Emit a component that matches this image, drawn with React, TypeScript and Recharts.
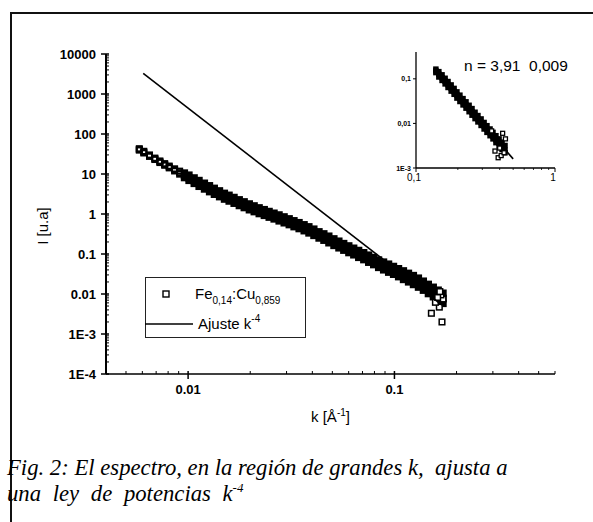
import React from "react";
import { ScatterChart, Scatter, XAxis, YAxis, Legend, Label } from "recharts";

// ─── Main spectrum data ───────────────────────────────────────────────────

const kValues = [
  0.0058, 0.0061, 0.0065, 0.0069, 0.0073, 0.0077, 0.0081, 0.0086, 0.0091, 0.0096,
  0.0101, 0.0107, 0.0113, 0.012, 0.0127, 0.0134, 0.0142, 0.015, 0.0158, 0.0167,
  0.0177, 0.0187, 0.0198, 0.0209, 0.0221, 0.0234, 0.0247, 0.0261, 0.0276, 0.0292,
  0.0309, 0.0326, 0.0345, 0.0365, 0.0385, 0.0407, 0.0431, 0.0455, 0.0481, 0.0509,
  0.0538, 0.0568, 0.0601, 0.0635, 0.0671, 0.071, 0.075, 0.0793, 0.0838, 0.0886,
  0.0937, 0.099, 0.1047, 0.1106, 0.117, 0.1236, 0.1307, 0.1381, 0.146, 0.1543,
  0.163, 0.172,
];

// band centre
const iCenter = [
  41, 35, 28.8, 24, 20.2, 17.3, 15, 12.7, 10.8, 9.2,
  8.0, 6.8, 5.8, 5.0, 4.3, 3.7, 3.2, 2.8, 2.5, 2.2,
  1.92, 1.71, 1.51, 1.36, 1.21, 1.09, 0.98, 0.89, 0.8, 0.72,
  0.64, 0.57, 0.51, 0.45, 0.4, 0.35, 0.3, 0.265, 0.23, 0.197,
  0.171, 0.15, 0.131, 0.115, 0.1, 0.0886, 0.0767, 0.0665, 0.0575, 0.0507,
  0.0444, 0.0391, 0.0343, 0.0297, 0.0257, 0.0224, 0.0193, 0.0162, 0.0134, 0.0112,
  0.0093, 0.0078,
];

// upper edge of the band
const iUpper = [
  43, 37, 30, 25, 21.2, 18.2, 15.8, 13.5, 11.8, 10.6,
  9.4, 8.0, 6.9, 5.9, 5.1, 4.4, 3.8, 3.3, 2.95, 2.6,
  2.27, 2.02, 1.79, 1.6, 1.43, 1.29, 1.16, 1.05, 0.95, 0.85,
  0.76, 0.68, 0.61, 0.54, 0.48, 0.42, 0.36, 0.32, 0.28, 0.24,
  0.21, 0.183, 0.16, 0.14, 0.123, 0.108, 0.094, 0.082, 0.071, 0.063,
  0.056, 0.049, 0.043, 0.038, 0.033, 0.029, 0.025, 0.021, 0.0175, 0.0148,
  0.0125, 0.0105,
];

// lower edge of the band
const iLower = [
  39.5, 33.5, 27.5, 23, 19.3, 16.5, 14.2, 11.9, 9.9, 8.1,
  6.9, 5.8, 4.9, 4.2, 3.6, 3.1, 2.7, 2.35, 2.1, 1.85,
  1.62, 1.44, 1.27, 1.14, 1.02, 0.92, 0.83, 0.75, 0.67, 0.6,
  0.54, 0.48, 0.43, 0.38, 0.335, 0.29, 0.25, 0.22, 0.19, 0.163,
  0.142, 0.124, 0.108, 0.095, 0.082, 0.072, 0.062, 0.054, 0.046, 0.04,
  0.035, 0.031, 0.027, 0.023, 0.02, 0.0172, 0.0148, 0.0124, 0.0102, 0.0085,
  0.0068, 0.0058,
];

// from this index on the overlapping squares print as a solid band
const solidFrom = 9;

// scattered squares at the high-k end
const tailK = [0.151, 0.17, 0.165, 0.172, 0.158, 0.168, 0.162, 0.166];
const tailI = [0.0033, 0.002, 0.0047, 0.0075, 0.0062, 0.0095, 0.0082, 0.0115];

// k^-4 fit
const fitK = [0.00606, 0.17];
const fitI = [3300, 0.0053];

// ─── Inset data ────────────────────────────────────────────────────────────

const insetK = [
  0.139, 0.146, 0.154, 0.162, 0.17, 0.179, 0.188, 0.197, 0.207, 0.218, 0.229, 0.241,
  0.253, 0.266, 0.279, 0.294, 0.309, 0.324, 0.341, 0.358, 0.376, 0.396, 0.416, 0.437,
];
const insetMid = [
  0.151, 0.127, 0.106, 0.0887, 0.0742, 0.0621, 0.052, 0.0435, 0.0364, 0.0306, 0.0256, 0.0215,
  0.018, 0.015, 0.0126, 0.0105, 0.0088, 0.0074, 0.0062, 0.0052, 0.0043, 0.0036, 0.003, 0.0025,
];
const insetUp = [
  0.165, 0.145, 0.123, 0.103, 0.087, 0.073, 0.061, 0.051, 0.043, 0.036, 0.0305, 0.0255,
  0.0215, 0.0178, 0.015, 0.0126, 0.0105, 0.0089, 0.0075, 0.0063, 0.0053, 0.0045, 0.0038, 0.0032,
];
const insetLow = [
  0.138, 0.11, 0.092, 0.077, 0.064, 0.053, 0.045, 0.037, 0.031, 0.026, 0.022, 0.0183,
  0.0153, 0.0128, 0.0108, 0.009, 0.0075, 0.0063, 0.0053, 0.0045, 0.0037, 0.0031, 0.0026, 0.0022,
];
const insetTailK = [0.37, 0.39, 0.41, 0.43, 0.42, 0.44, 0.4, 0.35];
const insetTailI = [0.0024, 0.0017, 0.0019, 0.0022, 0.006, 0.0045, 0.0028, 0.0068];
const insetFitK = [0.137, 0.5];
const insetFitI = [0.16, 0.0016];

// ─── Axis ticks ────────────────────────────────────────────────────────────

const yTickValues = [1e-4, 1e-3, 0.01, 0.1, 1, 10, 100, 1000, 10000];
const yTickLabels = ["1E-4", "1E-3", "0.01", "0.1", "1", "10", "100", "1000", "10000"];
const xTickValues = [0.01, 0.1];
const xTickLabels = ["0.01", "0.1"];

const insetYTickValues = [0.001, 0.01, 0.1];
const insetYTickLabels = ["1E-3", "0,01", "0,1"];
const insetXTickValues = [0.1, 1];
const insetXTickLabels = ["0,1", "1"];

const minorSteps = [2, 3, 4, 5, 6, 7, 8, 9];
const yMinor = yTickValues.slice(0, -1).flatMap((d) => minorSteps.map((m) => m * d));
const xMinor = [0.001, 0.01, 0.1]
  .flatMap((d) => minorSteps.map((m) => m * d))
  .filter((v) => v > 0.0039 && v < 0.61);
const insetXMinor = minorSteps.map((m) => m * 0.1);

const font = "'Liberation Sans', Arial, sans-serif";

// ─── Build series ──────────────────────────────────────────────────────────

const rows = [iUpper, iLower, iCenter];
const openData = rows.flatMap((row) =>
  kValues.slice(0, solidFrom).map((k, i) => ({ k, I: row[i] }))
);
const solidData = rows.flatMap((row) =>
  kValues.map((k, i) => ({ k, I: row[i] })).slice(solidFrom)
);
const tailData = tailK.map((k, i) => ({ k, I: tailI[i] }));
const fitData = fitK.map((k, i) => ({ k, I: fitI[i] }));

const insetData = [insetUp, insetLow, insetMid].flatMap((row) =>
  insetK.map((k, i) => ({ k, I: row[i] }))
);
const insetTail = insetTailK.map((k, i) => ({ k, I: insetTailI[i] }));
const insetFitData = insetFitK.map((k, i) => ({ k, I: insetFitI[i] }));

// ─── Shapes ────────────────────────────────────────────────────────────────

const makeSquare = (size: number, sw: number, fill: string) => (props: any) => {
  const { cx, cy } = props;
  if (cx == null || cy == null) return <g />;
  return (
    <rect x={cx - size / 2} y={cy - size / 2} width={size} height={size} fill={fill} stroke="#000" strokeWidth={sw} />
  );
};

const OpenSquare = makeSquare(5.2, 1.8, "none");
const SolidSquare = makeSquare(5.2, 2.1, "#000");
const TailSquare = makeSquare(5.6, 1.5, "#fff");
const SmallSolid = makeSquare(3.6, 1.9, "#000");
const SmallTail = makeSquare(4, 1.3, "#fff");

const NoDot = () => <g />;

// ─── Ticks ─────────────────────────────────────────────────────────────────

const MainYTick = (props: any) => {
  const { x, y, payload } = props;
  const idx = yTickValues.indexOf(payload.value);
  if (idx < 0) return <line x1={x} x2={x + 3} y1={y} y2={y} stroke="#000" strokeWidth={1} />;
  return (
    <g>
      <line x1={x - 5} x2={x + 3} y1={y} y2={y} stroke="#000" strokeWidth={1.5} />
      <text x={x - 10} y={y} dy="0.36em" textAnchor="end" fontSize={13} fontWeight="bold" fontFamily={font} fill="#000">
        {yTickLabels[idx]}
      </text>
    </g>
  );
};

const MainXTick = (props: any) => {
  const { x, y, payload } = props;
  const idx = xTickValues.indexOf(payload.value);
  if (idx < 0) return <line x1={x} x2={x} y1={y} y2={y - 3} stroke="#000" strokeWidth={1} />;
  return (
    <g>
      <line x1={x} x2={x} y1={y - 3} y2={y + 5} stroke="#000" strokeWidth={1.5} />
      <text x={x} y={y + 20} textAnchor="middle" fontSize={13} fontWeight="bold" fontFamily={font} fill="#000">
        {xTickLabels[idx]}
      </text>
    </g>
  );
};

const InsetYTick = (props: any) => {
  const { x, y, payload } = props;
  const idx = insetYTickValues.indexOf(payload.value);
  return (
    <g>
      <line x1={x - 3} x2={x} y1={y} y2={y} stroke="#000" strokeWidth={1} />
      <text x={x - 5} y={y} dy="0.36em" textAnchor="end" fontSize={7} fontWeight="bold" fontFamily={font} fill="#000">
        {insetYTickLabels[idx]}
      </text>
    </g>
  );
};

const InsetXTick = (props: any) => {
  const { x, y, payload } = props;
  const idx = insetXTickValues.indexOf(payload.value);
  if (idx < 0) return <line x1={x} x2={x} y1={y} y2={y + 2} stroke="#000" strokeWidth={0.8} />;
  return (
    <g>
      <line x1={x} x2={x} y1={y} y2={y + 4} stroke="#000" strokeWidth={1} />
      <text x={x - 2} y={y + 13} textAnchor="middle" fontSize={10} fontFamily={font} fill="#000">
        {insetXTickLabels[idx]}
      </text>
    </g>
  );
};

// ─── Labels ────────────────────────────────────────────────────────────────

const XAxisLabel = (props: any) => {
  const { viewBox } = props;
  const cx = viewBox.x + viewBox.width / 2;
  return (
    <text x={cx} y={viewBox.y + 48} textAnchor="middle" fontSize={15} fontFamily={font} fill="#000">
      k [Å<tspan dy={-6} fontSize={10}>-1</tspan>
      <tspan dy={6}>]</tspan>
    </text>
  );
};

const YAxisLabel = () => (
  <text
    x={42}
    y={226}
    transform="rotate(-90 42 226)"
    textAnchor="middle"
    dominantBaseline="central"
    fontSize={15}
    fontFamily={font}
    fill="#000"
  >
    I [u.a]
  </text>
);

const renderLegend = () => (
  <div
    style={{
      width: 161,
      height: 61,
      border: "1px solid #222",
      boxSizing: "border-box",
      position: "relative",
      fontFamily: font,
      fontSize: 15,
      lineHeight: "15px",
      color: "#000",
      background: "#fff",
    }}
  >
    <svg style={{ position: "absolute", left: 15, top: 11 }} width={10} height={10}>
      <rect x={2} y={2} width={6} height={6} fill="none" stroke="#000" strokeWidth={1.4} />
    </svg>
    <div style={{ position: "absolute", left: 49, top: 8, whiteSpace: "nowrap" }}>
      Fe<span style={{ fontSize: 10, position: "relative", top: 5 }}>0,14</span>:Cu
      <span style={{ fontSize: 10, position: "relative", top: 5 }}>0,859</span>
    </div>
    <svg style={{ position: "absolute", left: -1, top: 44 }} width={48} height={4}>
      <line x1={0} x2={48} y1={2} y2={2} stroke="#000" strokeWidth={1.6} />
    </svg>
    <div style={{ position: "absolute", left: 52, top: 38, whiteSpace: "nowrap" }}>
      Ajuste k<span style={{ fontSize: 10, position: "relative", top: -7 }}>-4</span>
    </div>
  </div>
);

// ─── Charts ────────────────────────────────────────────────────────────────

function MainChart() {
  return (
    <ScatterChart width={593} height={522} margin={{ top: 54, right: 38, bottom: 118, left: 56 }}>
      <XAxis
        type="number"
        dataKey="k"
        scale="log"
        domain={[0.004, 0.6]}
        allowDataOverflow
        ticks={[...xTickValues, ...xMinor]}
        interval={0}
        tick={MainXTick}
        tickLine={false}
        tickSize={0}
        tickMargin={0}
        height={30}
        axisLine={{ stroke: "#000", strokeWidth: 1.6 }}
      >
        <Label content={XAxisLabel} />
      </XAxis>
      <YAxis
        type="number"
        dataKey="I"
        scale="log"
        domain={[1e-4, 1e4]}
        allowDataOverflow
        ticks={[...yTickValues, ...yMinor]}
        interval={0}
        tick={MainYTick}
        tickLine={false}
        tickSize={0}
        tickMargin={0}
        width={50}
        axisLine={{ stroke: "#000", strokeWidth: 2 }}
      >
        <Label content={YAxisLabel} />
      </YAxis>
      <Legend
        layout="horizontal"
        verticalAlign="middle"
        align="center"
        content={renderLegend}
        wrapperStyle={{ left: 145, top: 277, bottom: "auto", width: 161, height: 61 }}
      />
      <Scatter name="Fe0,14:Cu0,859" data={openData} shape={OpenSquare} isAnimationActive={false} />
      <Scatter data={solidData} shape={SolidSquare} legendType="none" isAnimationActive={false} />
      <Scatter data={tailData} shape={TailSquare} legendType="none" isAnimationActive={false} />
      <Scatter
        name="Ajuste k-4"
        data={fitData}
        shape={NoDot}
        line={{ stroke: "#000", strokeWidth: 1.6 }}
        isAnimationActive={false}
      />
    </ScatterChart>
  );
}

function InsetChart() {
  return (
    <ScatterChart width={200} height={150} margin={{ top: 12, right: 11, bottom: 2, left: 20 }}>
      <XAxis
        type="number"
        dataKey="k"
        scale="log"
        domain={[0.1, 1]}
        allowDataOverflow
        ticks={[...insetXTickValues, ...insetXMinor]}
        interval={0}
        tick={InsetXTick}
        tickLine={false}
        tickSize={0}
        tickMargin={0}
        height={20}
        axisLine={{ stroke: "#000", strokeWidth: 1.3 }}
      />
      <YAxis
        type="number"
        dataKey="I"
        scale="log"
        domain={[0.001, 0.4]}
        allowDataOverflow
        ticks={insetYTickValues}
        interval={0}
        tick={InsetYTick}
        tickLine={false}
        tickSize={0}
        tickMargin={0}
        width={30}
        axisLine={{ stroke: "#000", strokeWidth: 1.3 }}
      />
      <Scatter data={insetData} shape={SmallSolid} isAnimationActive={false} />
      <Scatter
        data={insetFitData}
        shape={NoDot}
        line={{ stroke: "#000", strokeWidth: 1.6 }}
        isAnimationActive={false}
      />
      <Scatter data={insetTail} shape={SmallTail} isAnimationActive={false} />
    </ScatterChart>
  );
}

const captionStyle: React.CSSProperties = {
  position: "absolute",
  left: 7,
  fontFamily: "'Liberation Serif', 'Times New Roman', serif",
  fontStyle: "italic",
  fontSize: 22.7,
  lineHeight: "23px",
  whiteSpace: "pre",
  color: "#000",
};

export default function App() {
  return (
    <div
      style={{
        position: "absolute",
        left: 0,
        top: 0,
        width: 593,
        height: 522,
        background: "#fff",
        overflow: "hidden",
      }}
    >
      <div
        style={{
          position: "absolute",
          left: 10,
          top: 12,
          width: 620,
          height: 540,
          borderTop: "2px solid #111",
          borderLeft: "2px solid #111",
        }}
      />
      <div style={{ position: "absolute", left: 0, top: 0 }}>
        <MainChart />
      </div>
      <div style={{ position: "absolute", left: 366, top: 40 }}>
        <InsetChart />
      </div>
      <div
        style={{
          position: "absolute",
          left: 464,
          top: 58,
          fontFamily: font,
          fontSize: 15.5,
          lineHeight: "16px",
          whiteSpace: "pre",
          color: "#000",
        }}
      >
        n = 3,91  0,009
      </div>
      <div style={{ ...captionStyle, top: 456 }}>Fig. 2: El espectro, en la región de grandes k,  ajusta a</div>
      <div style={{ ...captionStyle, top: 482, wordSpacing: 6 }}>
        una ley de potencias k<span style={{ fontSize: 13, position: "relative", top: -9 }}>-4</span>
      </div>
    </div>
  );
}
